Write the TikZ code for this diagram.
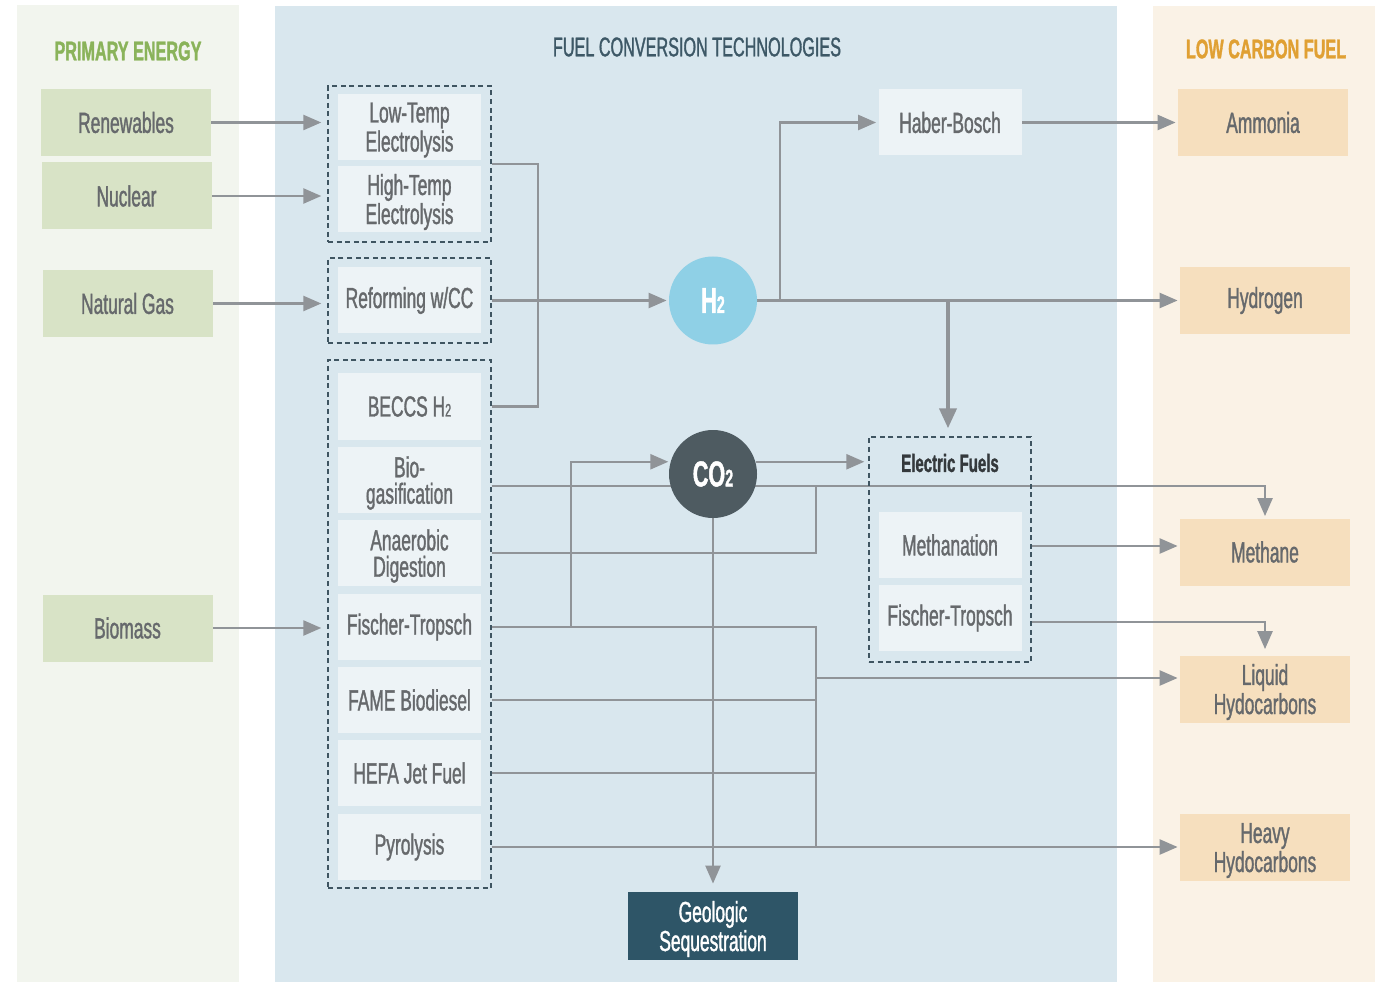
\documentclass[tikz,border=0pt]{standalone}
\usepackage{fontspec}
\newfontfamily\cf{Liberation Sans}[FakeStretch=0.6,FakeBold=1.2]
\usetikzlibrary{arrows.meta}
\definecolor{leftpanel}{HTML}{F2F5EE}
\definecolor{midpanel}{HTML}{D9E7EE}
\definecolor{rightpanel}{HTML}{FAF2E6}
\definecolor{srcgreen}{HTML}{D8E3C6}
\definecolor{techfill}{HTML}{EDF3F6}
\definecolor{fuelpeach}{HTML}{F6DFBE}
\definecolor{hdrgreen}{HTML}{8AB35A}
\definecolor{hdrblue}{HTML}{3D5866}
\definecolor{hdrorange}{HTML}{E0A033}
\definecolor{labelgray}{HTML}{66696C}
\definecolor{conncol}{HTML}{909498}
\definecolor{dashcol}{HTML}{3F5561}
\definecolor{htwo}{HTML}{8FD0E6}
\definecolor{cotwo}{HTML}{4E5B61}
\definecolor{geocol}{HTML}{2E5567}
\definecolor{efcol}{HTML}{34393C}
\newcommand{\subtwo}{{\fontsize{9}{9}\selectfont 2}}
\newcommand{\bigsubtwo}{{\fontsize{12}{12}\selectfont 2}}
\pgfdeclarelayer{bglayer}
\pgfdeclarelayer{lines}
\pgfsetlayers{bglayer,lines,main}
\tikzset{
  lbl/.style={font=\cf\fontsize{14.5}{13.2}\selectfont, text=labelgray, align=center, inner sep=0pt},
  ml/.style={text depth=0pt},
  srcbox/.style={lbl, fill=srcgreen, minimum width=85pt, minimum height=33.5pt},
  techbox/.style={lbl, fill=techfill, minimum width=71.5pt, minimum height=33pt},
  fuelbox/.style={lbl, fill=fuelpeach, minimum width=85pt, minimum height=33.5pt},
  grp/.style={draw=dashcol, dash pattern=on 2.5pt off 1.8pt, line width=0.7pt, inner sep=0pt},
  conn/.style={draw=conncol, line width=1.2pt},
  arr/.style={conn, -{Triangle[length=9pt,width=7.5pt]}},
  thickarr/.style={draw=conncol, line width=2pt, -{Triangle[length=10pt,width=8.5pt]}},
  hdr/.style={font=\cf\fontsize{13.5}{14}\selectfont, inner sep=0pt},
  gas/.style={circle, minimum size=44pt, inner sep=0pt, text=white, font=\cf\bfseries\fontsize{18}{18}\selectfont},
}
\begin{document}
\begin{tikzpicture}[x=0.5pt,y=-0.5pt]
\useasboundingbox (0,0) rectangle (1384,983);
\begin{pgfonlayer}{bglayer}
\fill[white] (0,0) rectangle (1384,983);
\fill[leftpanel] (17,5) rectangle (239,982);
\fill[midpanel] (275,6) rectangle (1117,982);
\fill[rightpanel] (1153,6) rectangle (1375,982);
\end{pgfonlayer}

% headers
\node[hdr, text=hdrgreen, font=\cf\bfseries\fontsize{13.5}{14}\selectfont] (hp) at (128,51) {PRIMARY ENERGY};
\node[hdr, text=hdrblue] (hf) at (697,47) {FUEL CONVERSION TECHNOLOGIES};
\node[hdr, text=hdrorange, font=\cf\bfseries\fontsize{13.5}{14}\selectfont] (hl) at (1266,49) {LOW CARBON FUEL};

% primary energy
\node[srcbox] (ren) at (126,122.5) {Renewables};
\node[srcbox] (nuc) at (126.5,196) {Nuclear};
\node[srcbox] (ng) at (127.5,303.5) {Natural Gas};
\node[srcbox] (bio) at (127.5,628) {Biomass};

% groups
\node[grp, minimum width=81.5pt, minimum height=78pt] (g1) at (409.5,164) {};
\node[grp, minimum width=81.5pt, minimum height=42.5pt] (g2) at (409.5,300.5) {};
\node[grp, minimum width=81.5pt, minimum height=264pt] (g3) at (409.5,624) {};

% technologies
\node[techbox, ml] (lte) at (409.5,127) {Low-Temp\\Electrolysis};
\node[techbox, ml] (hte) at (409.5,199) {High-Temp\\Electrolysis};
\node[techbox] (ref) at (409.5,300.5) {Reforming w/CC};
\node[techbox] (beccs) at (409.5,406.5) {BECCS H\subtwo};
\node[techbox, ml] (bgas) at (409.5,480) {Bio-\\gasification};
\node[techbox, ml] (ad) at (409.5,553) {Anaerobic\\Digestion};
\node[techbox] (ft) at (409.5,627) {Fischer-Tropsch};
\node[techbox] (fame) at (409.5,700) {FAME Biodiesel};
\node[techbox] (hefa) at (409.5,773) {HEFA Jet Fuel};
\node[techbox] (pyro) at (409.5,847) {Pyrolysis};

% center
\node[gas, fill=htwo] (h2) at (713,300.5) {H\bigsubtwo};
\node[gas, fill=cotwo] (co2) at (713,474) {CO\bigsubtwo};
\node[techbox] (hb) at (950,122.5) {Haber-Bosch};
\node[grp, minimum width=81pt, minimum height=112.5pt] (ef) at (950,549.5) {};
\node[inner sep=0pt, text=efcol, font=\cf\bfseries\fontsize{12.5}{13}\selectfont] (eft) at (950,463) {Electric Fuels};
\node[techbox] (mtn) at (950,545) {Methanation};
\node[techbox] (ft2) at (950,618) {Fischer-Tropsch};
\node[lbl, ml, fill=geocol, text=white, minimum width=85pt, minimum height=34pt] (geo) at (713,926) {Geologic\\Sequestration};

% fuels
\node[fuelbox] (amm) at (1263,122.5) {Ammonia};
\node[fuelbox] (hyd) at (1265,300.5) {Hydrogen};
\node[fuelbox] (mth) at (1265,552) {Methane};
\node[fuelbox, ml] (liq) at (1265,689) {Liquid\\Hydocarbons};
\node[fuelbox, ml] (hvy) at (1265,847.5) {Heavy\\Hydocarbons};

% junction coordinates
\coordinate (jB) at (538,406.5);
\coordinate (jH) at (780,300.5);
\coordinate (jE) at (948,300.5);
\coordinate (jF) at (571,627);
\coordinate (jG) at (816,486);
\coordinate (jP) at (816,847);
\coordinate (jL) at (816,678);
\coordinate (jM) at (1031,546);
\coordinate (jT) at (1031,622);

\begin{pgfonlayer}{lines}
\draw[arr, shorten >=3pt] (ren.east) -- (ren.east -| g1.west);
\draw[arr, shorten >=3pt] (nuc.east) -- (nuc.east -| g1.west);
\draw[arr, shorten >=3pt] (ng.east) -- (ng.east -| g2.west);
\draw[arr, shorten >=3pt] (bio.east) -- (bio.east -| g3.west);
\draw[conn] (g1.east) -| (jB) -- (beccs -| g3.east);
\draw[arr, shorten >=1pt] (g2.east) -- (h2.west);
\draw[arr, shorten >=1pt] (h2.east) -- (hyd.west);
\draw[arr, shorten >=1pt] (jH) |- (hb.west);
\draw[arr, shorten >=1pt] (hb.east) -- (amm.west);
\draw[thickarr, shorten >=4pt] (jE) -- (jE |- ef.north);
\draw[arr, shorten >=2pt] (co2.16) -- (co2.16 -| ef.west);
\draw[arr, shorten >=1pt] (jF) |- (co2.164);
\draw[arr, shorten >=1pt] (g3.east |- jG) -| (mth.north);
\draw[conn] (ad -| g3.east) -| (jG);
\draw[conn] (ft -| g3.east) -| (jP);
\draw[conn] (fame -| g3.east) -- (fame -| jP);
\draw[conn] (hefa -| g3.east) -- (hefa -| jP);
\draw[arr, shorten >=1pt] (pyro -| g3.east) -- (pyro -| hvy.west);
\draw[arr, shorten >=1pt] (jL) -- (jL -| liq.west);
\draw[arr, shorten >=4pt] (co2.south) -- (geo.north);
\draw[arr, shorten >=1pt] (jM) -- (jM -| mth.west);
\draw[arr, shorten >=3pt] (jT) -| (liq.north);
\end{pgfonlayer}
\end{tikzpicture}
\end{document}
